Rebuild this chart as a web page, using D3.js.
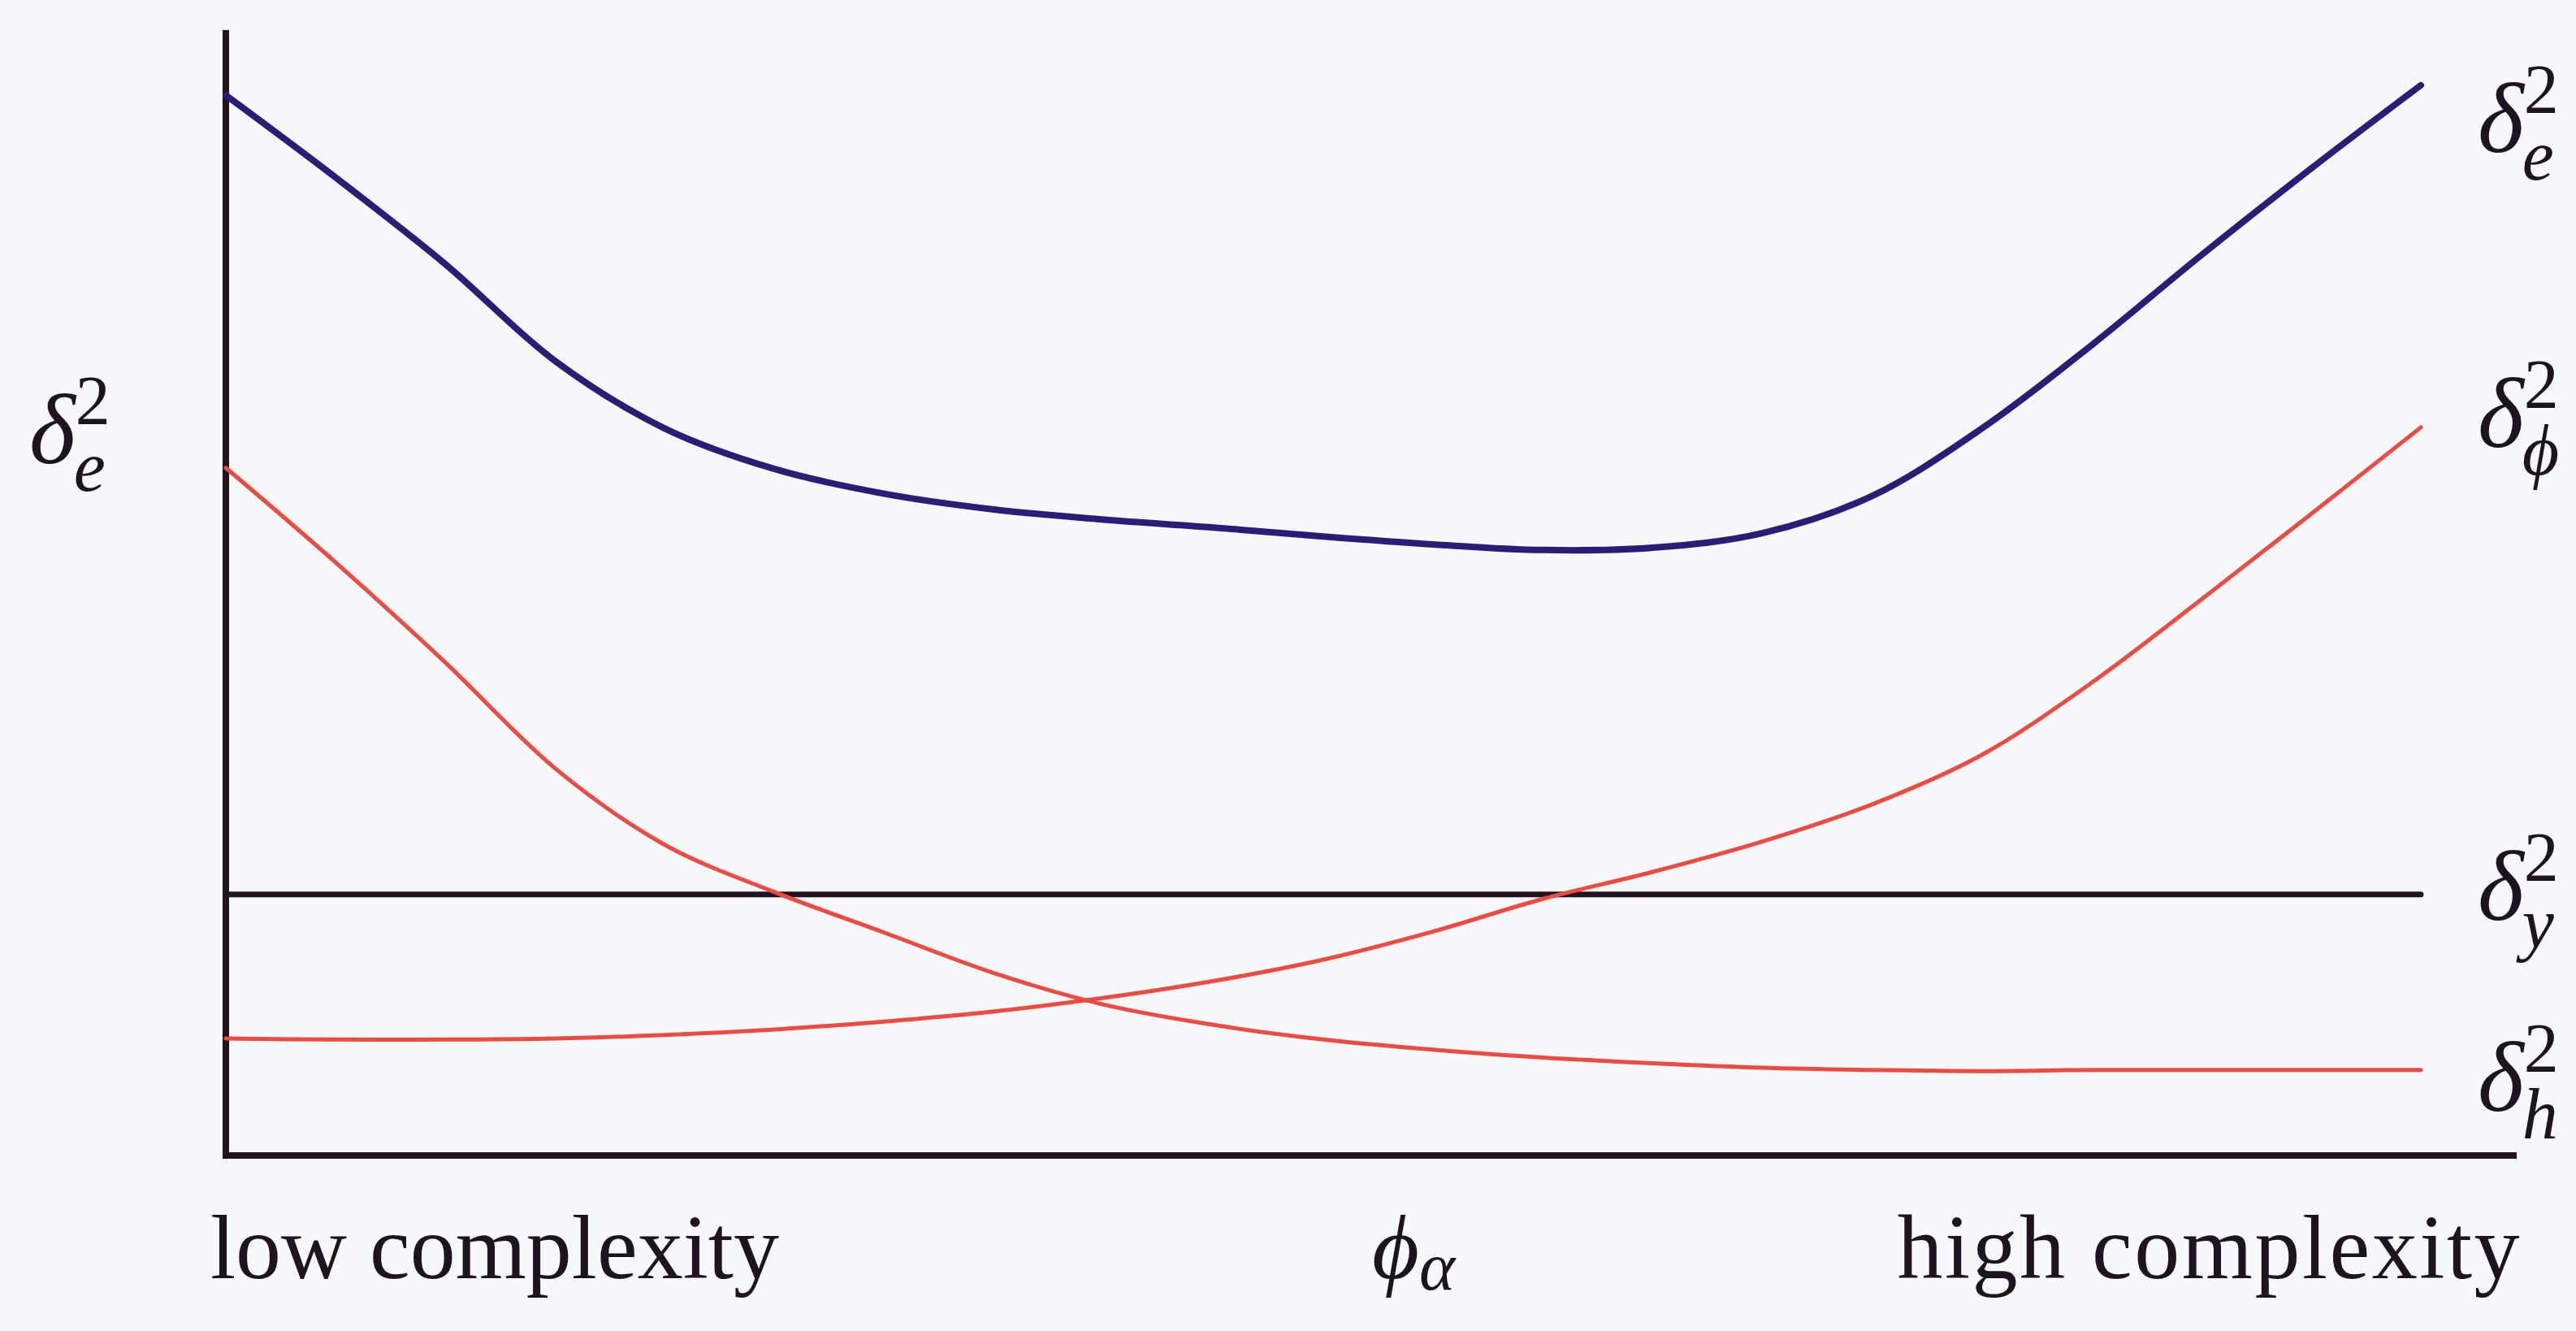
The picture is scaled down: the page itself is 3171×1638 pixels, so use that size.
<!DOCTYPE html>
<html>
<head>
<meta charset="utf-8">
<script src="https://cdn.jsdelivr.net/npm/d3@7"></script>
<style>
	html, body { margin: 0; padding: 0; background: #f6f8fc; }
	svg { display: block; }
	.lbl { font-family: "Liberation Serif", "DejaVu Serif", serif; fill: #1e1420; }
</style>
</head>
<body>
<svg class="chart"></svg>
<script>
// complexity steps along the x axis
const complexity = [0, 5, 10, 15, 20, 25, 30, 35, 40, 45, 50, 55, 60, 65, 70, 75, 80, 85, 90, 95, 100];
// total error  (delta_e^2)
const totalError = [94.2, 86.9, 79.2, 70.6, 64.6, 61.0, 58.8, 57.4, 56.5, 55.8, 55.0, 54.3, 53.8, 54.0, 55.3, 58.6, 64.6, 72.0, 80.0, 87.7, 95.1];
// bias part (delta_h^2)
const biasError = [61.1, 52.7, 43.8, 34.4, 27.6, 23.4, 19.8, 16.2, 13.4, 11.6, 10.3, 9.4, 8.7, 8.2, 7.8, 7.6, 7.5, 7.6, 7.6, 7.6, 7.6];
// variance part (delta_phi^2)
const varianceError = [10.4, 10.3, 10.3, 10.4, 10.7, 11.2, 11.9, 12.8, 14.0, 15.5, 17.4, 19.9, 22.8, 25.2, 27.9, 31.2, 35.6, 42.0, 49.4, 57.0, 64.7];
// noise level (delta_y^2), constant
const noiseLevel = [23.2, 23.2];
const noiseX = [0, 100];

const size = { w: 3171, h: 1638 };
const svg = d3.select("svg.chart").attr("width", size.w).attr("height", size.h);
const g = svg.append("g");

const xScale = d3.scaleLinear().domain([0, 100]).range([278, 2980]);
const yScale = d3.scaleLinear().domain([0, 100]).range([1422, 37]);

const line = d3
	.line()
	.x((d) => xScale(d[0]))
	.y((d) => yScale(d[1]))
	.curve(d3.curveCatmullRom.alpha(0.5));

function drawSeries(values, xs, color, width) {
	g.append("path")
		.datum(xs.map((x, i) => [x, values[i]]))
		.attr("d", line)
		.attr("fill", "none")
		.attr("stroke", color)
		.attr("stroke-width", width)
		.attr("stroke-linecap", "round");
}

// axes
g.append("line")
	.attr("x1", xScale(0)).attr("y1", yScale(100))
	.attr("x2", xScale(0)).attr("y2", yScale(0) + 4)
	.attr("stroke", "#22141f").attr("stroke-width", 8);
g.append("line")
	.attr("x1", xScale(0) - 4).attr("y1", yScale(0))
	.attr("x2", 3098).attr("y2", yScale(0))
	.attr("stroke", "#22141f").attr("stroke-width", 8);

drawSeries(noiseLevel, noiseX, "#22141f", 7);
drawSeries(biasError, complexity, "#f04a40", 5);
drawSeries(varianceError, complexity, "#f04a40", 5);
drawSeries(totalError, complexity, "#2c1c78", 8);

// delta labels: delta, superscript 2, subscript under it (one text element)
function deltaLabel(x, y, sub) {
	const t = g.append("text").attr("class", "lbl").attr("x", x).attr("y", y);
	t.append("tspan").attr("font-style", "italic").attr("font-size", 122).text("δ");
	t.append("tspan").attr("font-size", 86).attr("dy", -48).text("2");
	t.append("tspan")
		.attr("font-style", "italic")
		.attr("font-size", 88)
		.attr("dx", -45)
		.attr("dy", 82)
		.text(sub);
}

deltaLabel(36, 570, "e");
deltaLabel(3050, 187, "e");
deltaLabel(3050, 550, "ϕ");
deltaLabel(3050, 1132, "y");
deltaLabel(3050, 1367, "h");

// bottom labels
g.append("text").attr("class", "lbl").attr("x", 259).attr("y", 1573)
	.attr("font-size", 112).text("low complexity");
g.append("text").attr("class", "lbl").attr("x", 3104).attr("y", 1573)
	.attr("text-anchor", "end").attr("font-size", 112)
	.attr("letter-spacing", 2.5).text("high complexity");
const phi = g.append("text").attr("class", "lbl").attr("x", 1689).attr("y", 1573);
phi.append("tspan").attr("font-style", "italic").attr("font-size", 112).text("ϕ");
phi.append("tspan").attr("font-style", "italic").attr("font-size", 84).attr("dy", 14).text("α");
</script>
</body>
</html>
